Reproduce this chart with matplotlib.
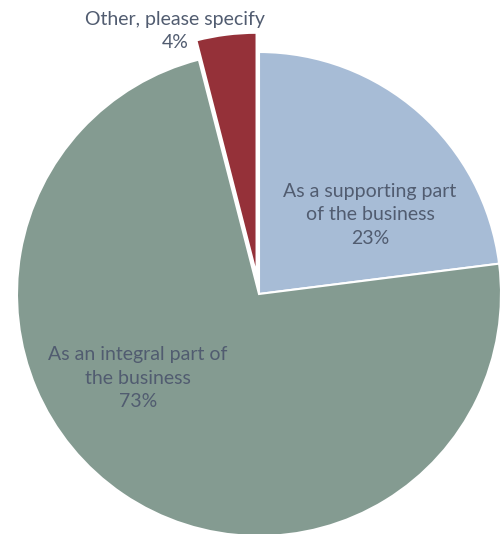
import matplotlib
matplotlib.use("Agg")
import matplotlib.pyplot as plt

categories = ["As a supporting part\nof the business", "As an integral part of\nthe business", "Other, please specify"]
values = [23, 73, 4]
colors = ["#A7BCD6", "#849B91", "#953139"]
explode = [0, 0, 0.08]

W, H = 504, 534
fig = plt.figure(figsize=(W / 100, H / 100), dpi=100)
ax = fig.add_axes([0, 0, 1, 1])
cx, cy, r = 259, H - 294, 242
ax.pie(values, colors=colors, explode=[e * r for e in explode], startangle=90,
       counterclock=False, radius=r, center=(cx, cy),
       wedgeprops=dict(edgecolor="white", linewidth=1.5))
ax.set_xlim(0, W)
ax.set_ylim(0, H)
ax.set_aspect("equal")
ax.axis("off")

tc = "#515C70"
font = dict(family=["Lato", "DejaVu Sans"], fontsize=14, color=tc,
            ha="center", va="center", linespacing=1.45)
ax.text(370, H - 215, f"{categories[0]}\n{values[0]}%", **font)
ax.text(138, H - 378, f"{categories[1]}\n{values[1]}%", **font)
ax.text(175, H - 31, f"{categories[2]}\n{values[2]}%", **font)

fig.savefig("out.png", dpi=100, facecolor="white")
